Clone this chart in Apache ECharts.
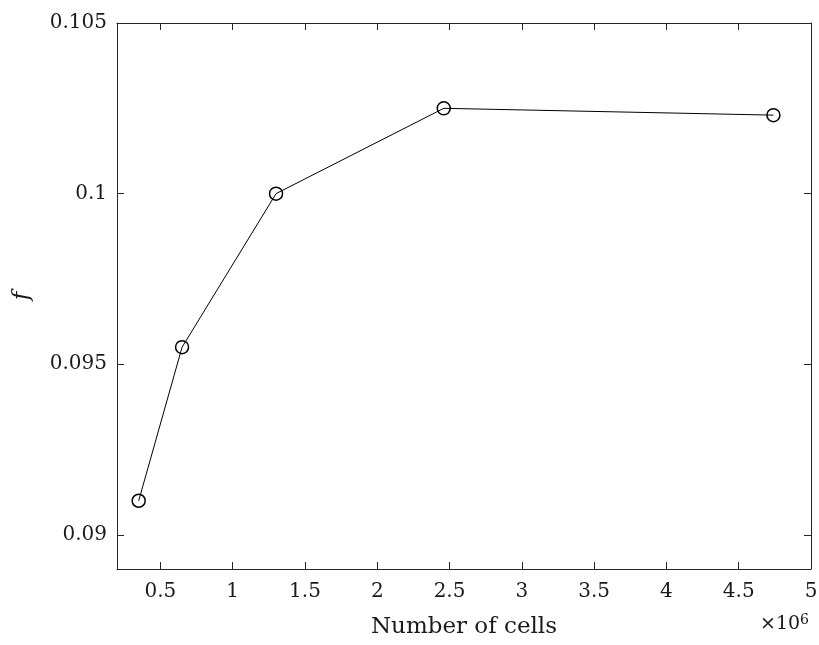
<!DOCTYPE html>
<html>
<head>
<meta charset="utf-8">
<script src="https://cdn.jsdelivr.net/npm/echarts@6/dist/echarts.min.js"></script>
<style>
  html, body { margin: 0; padding: 0; background: #fff; }
  #chart { width: 819px; height: 645px; }
</style>
</head>
<body>
<div id="chart"></div>
<script>
// Mesh-convergence study: friction factor f vs. number of cells (in millions)
const cellsMillions = [0.35, 0.65, 1.3, 2.46, 4.74];
const fValues = [0.091, 0.0955, 0.1, 0.1025, 0.1023];
const xTicks = [0.5, 1, 1.5, 2, 2.5, 3, 3.5, 4, 4.5, 5];
const yTicks = [0.09, 0.095, 0.1, 0.105];

const axisColor = '#262626';
const textColor = '#1a1a1a';
const fontFamily = '"DejaVu Serif", "Liberation Serif", serif';

const points = cellsMillions.map((x, i) => [x, fValues[i]]);

const tickStyle = { color: axisColor, width: 1 };

const chart = echarts.init(document.getElementById('chart'), null, { renderer: 'canvas' });
chart.setOption({
  backgroundColor: '#ffffff',
  animation: false,
  grid: { left: 117, right: 8, top: 23, bottom: 76, containLabel: false, outerBoundsMode: 'none' },
  xAxis: [
    {
      type: 'value', min: 0.2, max: 5,
      position: 'bottom',
      axisLine: { show: true, lineStyle: tickStyle },
      axisTick: { show: true, inside: true, length: 7, customValues: xTicks, lineStyle: tickStyle },
      axisLabel: { customValues: xTicks, formatter: v => String(v), color: textColor, fontFamily, fontSize: 20, margin: 13 },
      splitLine: { show: false },
      name: 'Number of cells', nameLocation: 'middle', nameGap: 47,
      nameTextStyle: { color: textColor, fontFamily, fontSize: 23 }
    },
    {
      type: 'value', min: 0.2, max: 5,
      position: 'top',
      axisLine: { show: true, lineStyle: tickStyle },
      axisTick: { show: true, inside: true, length: 7, customValues: xTicks, lineStyle: tickStyle },
      axisLabel: { show: false },
      splitLine: { show: false }
    }
  ],
  yAxis: [
    {
      type: 'value', min: 0.089, max: 0.105,
      position: 'left',
      axisLine: { show: true, lineStyle: tickStyle },
      axisTick: { show: true, inside: true, length: 7, customValues: yTicks, lineStyle: tickStyle },
      axisLabel: { customValues: yTicks, formatter: v => String(v), color: textColor, fontFamily, fontSize: 20, margin: 10 },
      splitLine: { show: false },
      name: 'f', nameLocation: 'middle', nameGap: 83, nameRotate: 90,
      nameTextStyle: { color: textColor, fontFamily, fontSize: 23, fontStyle: 'italic' }
    },
    {
      type: 'value', min: 0.089, max: 0.105,
      position: 'right',
      axisLine: { show: true, lineStyle: tickStyle },
      axisTick: { show: true, inside: true, length: 7, customValues: yTicks, lineStyle: tickStyle },
      axisLabel: { show: false },
      splitLine: { show: false }
    }
  ],
  graphic: [{
    type: 'text',
    right: 10,
    top: 613,
    style: {
      text: '×10{sup|6}',
      fontFamily,
      fontSize: 19,
      fill: textColor,
      rich: { sup: { fontFamily, fontSize: 14, fill: textColor, verticalAlign: 'top', padding: [0, 0, 9, 0] } }
    }
  }],
  series: [{
    type: 'line',
    xAxisIndex: 0,
    yAxisIndex: 0,
    data: points,
    symbol: 'circle',
    symbolSize: 13,
    lineStyle: { color: '#000', width: 1 },
    itemStyle: { color: 'rgba(0,0,0,0)', borderColor: '#000', borderWidth: 1.5 },
    z: 3
  }]
});
</script>
</body>
</html>
